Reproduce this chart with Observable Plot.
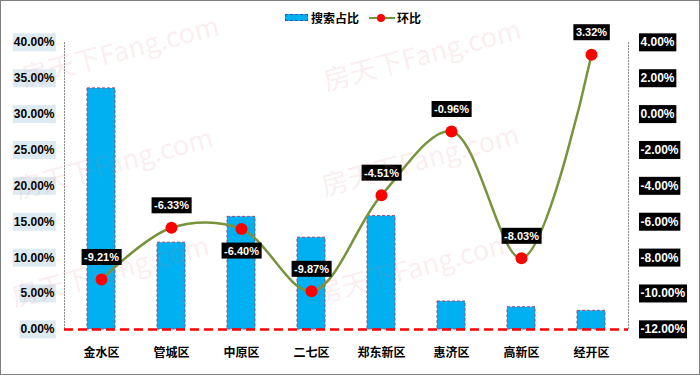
<!DOCTYPE html>
<html><head><meta charset="utf-8">
<script src="https://cdn.jsdelivr.net/npm/d3@7"></script>
<script src="https://cdn.jsdelivr.net/npm/@observablehq/plot@0.6"></script>
<style>
body{margin:0;background:#fff;}
#wrap{position:relative;width:700px;height:375px;box-sizing:border-box;border:1px solid #7f7f7f;overflow:hidden;background:#fff;font-family:"Liberation Sans","Noto Sans CJK SC",sans-serif;}
#chart{position:absolute;left:0;top:0;}
#legend{position:absolute;top:8px;left:0;width:698px;display:flex;justify-content:center;align-items:center;font-weight:bold;font-size:12px;color:#000;padding-left:6px;box-sizing:border-box;}
#legend .item{display:flex;align-items:center;}
.wm{position:absolute;font-family:"Noto Sans CJK SC",sans-serif;font-size:27px;color:rgba(225,120,135,0.14);transform:rotate(-15deg);white-space:nowrap;pointer-events:none;transform-origin:center;}
</style>
</head><body>
<div id="wrap">
  <div id="chart"></div>
  <div id="legend">
    <div class="item"><div style="width:21px;height:5px;background:#00B0F0;border:1px dashed #2a5fa8;margin-right:3px;"></div><span>搜索占比</span></div>
    <div class="item" style="margin-left:10px;"><svg width="26" height="10" style="margin-right:2px"><line x1="0" y1="5" x2="26" y2="5" stroke="#77933C" stroke-width="2"/><circle cx="12" cy="5" r="4" fill="#FF0000"/></svg><span>环比</span></div>
  </div>
</div>
<script>
const districts = ["金水区","管城区","中原区","二七区","郑东新区","惠济区","高新区","经开区"];
const shares = [33.6, 12.1, 15.7, 12.8, 15.8, 3.9, 3.1, 2.6];
const mom = [-9.21, -6.33, -6.40, -9.87, -4.51, -0.96, -8.03, 3.32];
const leftTicks = [0, 5, 10, 15, 20, 25, 30, 35, 40];
const rightTicks = [-12, -10, -8, -6, -4, -2, 0, 2, 4];
const belowLabel = ["中原区"];
const watermarkText = "房天下Fang.com";

// map the right axis domain [-12, 4] onto the left axis domain [0, 40]
const toLeft = v => (v + 12) * 2.5;
const data = districts.map((d, i) => ({district: d, share: shares[i], mom: mom[i], my: toLeft(mom[i])}));
const fmt = v => v.toFixed(2) + "%";

const plot = Plot.plot({
  width: 698, height: 373,
  marginLeft: 63, marginRight: 71, marginTop: 41, marginBottom: 45,
  style: {background: "transparent", overflow: "visible", fontFamily: "'Liberation Sans','Noto Sans CJK SC',sans-serif", fontSize: "12px", fontWeight: "bold", color: "#000"},
  x: {domain: districts, paddingInner: 0.6, paddingOuter: 0.3, label: null, tickSize: 0, tickPadding: 19},
  y: {domain: [0, 40], axis: null},
  marks: [
    Plot.frame({anchor: "left", stroke: "#8c8c8c", strokeDasharray: "1.2,1.8"}),
    Plot.frame({anchor: "right", stroke: "#8c8c8c", strokeDasharray: "1.2,1.8"}),
    Plot.barY(data, {x: "district", y: "share", fill: "#00B0F0", stroke: "#9B4A78", strokeDasharray: "3,2", strokeWidth: 1}),
    Plot.ruleY([0], {stroke: "#FF0000", strokeWidth: 2.5, strokeDasharray: "9,5"}),
    Plot.line(data, {x: "district", y: "my", stroke: "#77933C", strokeWidth: 2.5, curve: "catmull-rom"}),
    Plot.dot(data, {x: "district", y: "my", r: 6, fill: "#FF0000"}),
    Plot.text(data.filter(d => !belowLabel.includes(d.district)), {x: "district", y: "my", text: d => fmt(d.mom), dy: -22, fill: "white", fontSize: 11, fontWeight: "bold", ariaDescription: "dlabel"}),
    Plot.text(data.filter(d => belowLabel.includes(d.district)), {x: "district", y: "my", text: d => fmt(d.mom), dy: 22, fill: "white", fontSize: 11, fontWeight: "bold", ariaDescription: "dlabel"}),
    Plot.text(leftTicks, {y: d => d, frameAnchor: "left", dx: -10, textAnchor: "end", text: d => fmt(d), fontSize: 12, fontWeight: "bold", fill: "#000", ariaDescription: "llabel"}),
    Plot.text(rightTicks, {y: d => toLeft(d), frameAnchor: "right", dx: 12, textAnchor: "start", text: d => fmt(d), fontSize: 12, fontWeight: "bold", fill: "white", ariaDescription: "rlabel"})
  ]
});
document.getElementById("chart").appendChild(plot);

function boxes(label, fill, px, py) {
  d3.select(plot).selectAll(`g[aria-description="${label}"] text`).each(function() {
    const b = this.getBBox();
    const t = this.getAttribute("transform");
    const r = document.createElementNS("http://www.w3.org/2000/svg", "rect");
    r.setAttribute("x", b.x - px); r.setAttribute("y", b.y - py);
    r.setAttribute("width", b.width + 2 * px); r.setAttribute("height", b.height + 2 * py);
    r.setAttribute("fill", fill);
    if (t) r.setAttribute("transform", t);
    this.parentNode.insertBefore(r, this);
  });
}
boxes("dlabel", "#000", 2.5, 2);
boxes("llabel", "#DEEAF1", 1, 2);
boxes("rlabel", "#000", 1.5, 2);

// faint watermark
const wrap = document.getElementById("wrap");
[[118,48],[420,52],[112,160],[418,157],[108,268],[412,265]].forEach(([cx, cy]) => {
  const el = document.createElement("div");
  el.className = "wm"; el.textContent = watermarkText;
  wrap.appendChild(el);
  const w = el.offsetWidth, h = el.offsetHeight;
  el.style.left = (cx - w / 2) + "px"; el.style.top = (cy - h / 2) + "px";
});
</script>
</body></html>
